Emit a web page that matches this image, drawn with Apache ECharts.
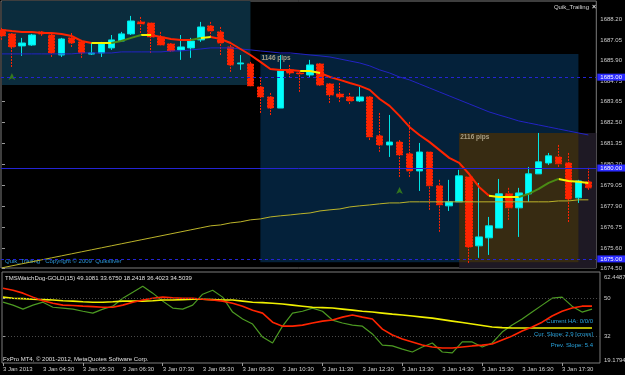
<!DOCTYPE html>
<html>
<head>
<meta charset="utf-8">
<script src="https://cdn.jsdelivr.net/npm/echarts@6/dist/echarts.min.js"></script>
<style>
  html, body { margin: 0; padding: 0; background: #000; }
  #chart { width: 625px; height: 375px; }
</style>
</head>
<body>
<div id="chart"></div>
<script>
// bar times, M15, 3 Jan 2013
var times = ['03:30','03:45','04:00','04:15','04:30','04:45','05:00','05:15','05:30','05:45',
  '06:00','06:15','06:30','06:45','07:00','07:15','07:30','07:45','08:00','08:15',
  '08:30','08:45','09:00','09:15','09:30','09:45','10:00','10:15','10:30','10:45',
  '11:00','11:15','11:30','11:45','12:00','12:15','12:30','12:45','13:00','13:15',
  '13:30','13:45','14:00','14:15','14:30','14:45','15:00','15:15','15:30','15:45',
  '16:00','16:15','16:30','16:45','17:00','17:15','17:30','17:45','18:00','18:15'];

var open = [1687.60, 1687.38, 1686.72, 1686.77, 1687.49, 1687.32, 1686.22, 1687.16, 1686.94, 1686.27,
  1686.33, 1686.61, 1686.99, 1687.38, 1688.04, 1687.98, 1687.21, 1686.83, 1686.50, 1686.61,
  1687.05, 1687.82, 1687.49, 1686.66, 1685.73, 1685.73, 1684.46, 1683.91, 1683.30, 1685.40,
  1685.23, 1685.12, 1685.73, 1684.63, 1684.07, 1683.91, 1683.69, 1683.91, 1681.77, 1681.27,
  1681.43, 1680.78, 1679.84, 1680.88, 1679.02, 1677.92, 1678.14, 1679.51, 1675.72, 1676.16,
  1676.70, 1678.58, 1677.81, 1678.58, 1679.68, 1680.28, 1680.61, 1680.28, 1678.36, 1679.24];
var high = [1687.71, 1687.43, 1687.16, 1687.38, 1687.54, 1687.38, 1687.16, 1687.43, 1687.05, 1686.88,
  1686.94, 1687.32, 1687.49, 1688.37, 1688.31, 1687.98, 1687.49, 1686.88, 1687.32, 1687.16,
  1688.04, 1688.04, 1687.76, 1686.94, 1686.22, 1685.84, 1685.01, 1684.13, 1686.22, 1685.67,
  1685.29, 1685.95, 1685.78, 1684.68, 1684.68, 1684.13, 1684.46, 1683.96, 1683.03, 1682.92,
  1681.54, 1682.54, 1681.38, 1680.88, 1679.35, 1679.35, 1679.90, 1679.51, 1679.18, 1677.31,
  1679.40, 1678.91, 1678.91, 1680.06, 1681.93, 1680.83, 1681.27, 1680.83, 1679.35, 1680.01];
var low = [1687.05, 1685.56, 1686.17, 1686.72, 1687.27, 1686.11, 1686.11, 1686.66, 1686.06, 1686.22,
  1686.11, 1686.50, 1686.94, 1687.32, 1687.43, 1686.33, 1686.77, 1686.39, 1685.95, 1686.06,
  1686.94, 1687.21, 1686.22, 1685.29, 1685.40, 1684.52, 1683.03, 1682.92, 1683.30, 1684.96,
  1684.19, 1685.01, 1684.52, 1683.58, 1683.63, 1683.52, 1683.63, 1681.54, 1680.89, 1680.61,
  1679.51, 1679.51, 1678.74, 1677.70, 1676.49, 1677.64, 1678.14, 1674.78, 1675.06, 1675.22,
  1676.70, 1677.15, 1676.21, 1678.14, 1679.68, 1680.17, 1680.06, 1677.03, 1678.08, 1678.80];
var close = [1687.27, 1686.66, 1686.88, 1687.32, 1687.38, 1686.33, 1687.10, 1686.88, 1686.33, 1686.33,
  1686.83, 1687.05, 1687.38, 1688.09, 1687.93, 1687.21, 1686.77, 1686.44, 1686.66, 1686.99,
  1687.76, 1687.54, 1686.88, 1685.67, 1685.78, 1684.52, 1683.91, 1683.30, 1685.34, 1685.23,
  1685.18, 1685.67, 1684.57, 1684.02, 1683.91, 1683.69, 1683.91, 1681.71, 1681.27, 1681.43,
  1680.72, 1679.84, 1680.88, 1679.02, 1677.97, 1678.14, 1679.57, 1675.66, 1676.21, 1676.82,
  1678.58, 1677.81, 1678.63, 1679.68, 1680.34, 1680.67, 1680.23, 1678.30, 1679.29, 1678.91];

// Quik_Trailing line and its slope colour (r falling, y flat, g rising)
var trail = [1687.60, 1687.54, 1687.49, 1687.49, 1687.43, 1687.43, 1687.38, 1687.27, 1686.99, 1686.88,
  1686.88, 1686.88, 1686.99, 1687.16, 1687.32, 1687.32, 1687.21, 1687.10, 1687.05, 1687.05,
  1687.16, 1687.21, 1687.10, 1686.88, 1686.55, 1686.22, 1685.84, 1685.45, 1685.40, 1685.40,
  1685.34, 1685.34, 1685.23, 1685.01, 1684.85, 1684.68, 1684.52, 1684.30, 1683.80, 1683.42,
  1682.87, 1682.26, 1681.82, 1681.44, 1681.00, 1680.56, 1680.28, 1679.67, 1678.96, 1678.47,
  1678.41, 1678.41, 1678.41, 1678.58, 1678.85, 1679.18, 1679.40, 1679.29, 1679.24, 1679.18];
var trailState = ['r','r','r','r','r','r','r','r','r','r',
  'y','y','g','g','g','y','r','r','r','r',
  'g','y','r','r','r','r','r','r','r','r',
  'r','y','y','r','r','r','r','r','r','r',
  'r','r','r','r','r','r','r','r','r','r',
  'y','y','y','g','g','g','g','y','y','y'];

var blueMA = [1686.28, 1686.28, 1686.28, 1686.28, 1686.28, 1686.28, 1686.28, 1686.28, 1686.33, 1686.33,
  1686.33, 1686.33, 1686.39, 1686.39, 1686.39, 1686.39, 1686.39, 1686.44, 1686.44, 1686.50,
  1686.55, 1686.61, 1686.61, 1686.61, 1686.55, 1686.50, 1686.44, 1686.39, 1686.33, 1686.33,
  1686.28, 1686.22, 1686.17, 1686.11, 1686.00, 1685.89, 1685.78, 1685.62, 1685.40, 1685.23,
  1685.01, 1684.85, 1684.63, 1684.41, 1684.19, 1683.97, 1683.75, 1683.53, 1683.31, 1683.09,
  1682.92, 1682.76, 1682.59, 1682.48, 1682.37, 1682.26, 1682.15, 1682.04, 1681.93, 1681.82];
var longMA = [1674.51, 1674.62, 1674.73, 1674.84, 1674.95, 1675.06, 1675.17, 1675.28, 1675.39, 1675.50,
  1675.61, 1675.72, 1675.83, 1675.94, 1676.05, 1676.16, 1676.27, 1676.38, 1676.49, 1676.60,
  1676.71, 1676.82, 1676.87, 1676.98, 1677.04, 1677.15, 1677.20, 1677.31, 1677.37, 1677.42,
  1677.48, 1677.53, 1677.64, 1677.70, 1677.75, 1677.86, 1677.92, 1677.97, 1678.03, 1678.08,
  1678.08, 1678.14, 1678.14, 1678.14, 1678.14, 1678.14, 1678.14, 1678.14, 1678.14, 1678.14,
  1678.14, 1678.14, 1678.14, 1678.14, 1678.14, 1678.14, 1678.19, 1678.19, 1678.25, 1678.25];

// horizontal price levels and arrows
var levels = [1685.00, 1680.00, 1675.00];
var levelDashed = [true, false, true];
var arrowBars = [1, 40];
var arrowPrices = [1685.23, 1678.96];

// TMSWatchDog indicator
var tmsGreen = [48.1, 46.7, 44.8, 46.7, 48.1, 45.7, 45.3, 44.8, 43.8, 42.9,
  44.8, 46.2, 50.0, 52.8, 55.7, 52.4, 48.6, 45.3, 44.8, 46.7,
  51.9, 53.8, 50.5, 43.4, 40.1, 37.7, 31.5, 28.7, 36.7, 42.9,
  43.8, 45.3, 43.8, 39.6, 38.2, 37.2, 36.7, 33.0, 27.7, 27.3,
  25.8, 24.4, 26.8, 28.7, 24.4, 24.0, 29.2, 29.2, 26.8, 28.7,
  33.9, 37.2, 40.1, 43.4, 46.7, 50.0, 50.5, 46.2, 43.4, 44.8];
var tmsRed = [54.7, 53.8, 52.4, 50.5, 48.8, 47.6, 46.7, 46.5, 46.2, 46.0,
  45.7, 45.7, 46.7, 48.1, 49.1, 50.0, 50.5, 50.2, 50.0, 50.0,
  49.5, 49.1, 48.6, 47.6, 46.2, 44.3, 42.9, 38.6, 36.7, 36.7,
  37.2, 38.2, 39.1, 39.6, 41.0, 42.0, 41.0, 40.1, 35.3, 32.5,
  30.6, 29.2, 27.7, 26.8, 26.3, 26.3, 26.8, 27.3, 27.7, 28.2,
  30.1, 32.0, 34.4, 36.3, 38.6, 41.5, 43.8, 45.3, 46.2, 46.2];
var tmsYellow = [50.5, 50.0, 49.8, 49.5, 49.3, 49.1, 48.8, 48.6, 48.3, 48.1,
  48.1, 48.3, 48.6, 48.6, 48.6, 48.8, 49.1, 49.1, 49.3, 49.5,
  49.5, 49.3, 49.1, 49.1, 48.6, 48.1, 47.9, 47.6, 47.2, 46.7,
  46.2, 45.7, 45.5, 45.3, 44.8, 44.3, 43.8, 43.4, 42.9, 42.4,
  42.0, 41.5, 41.0, 40.5, 39.8, 39.1, 38.4, 37.7, 37.0, 36.3,
  36.0, 35.8, 35.8, 35.8, 35.8, 35.8, 35.8, 35.8, 35.8, 35.8];

// axis ticks
var priceTicks = [1688.20, 1687.05, 1685.90, 1684.75, 1683.65, 1682.50, 1681.35,
  1680.20, 1679.05, 1677.90, 1676.75, 1675.60, 1674.50];
var tmsTicks = [50, 32];
var timeLabelBars = [0, 4, 8, 12, 16, 20, 24, 28, 32, 36, 40, 44, 48, 52, 56];
var timeTickBars = [0, 8, 16, 24, 32, 40, 48, 56];

var FONT = '6px "Liberation Sans", Arial, sans-serif';
var LBL = '#d0d0d0';

function pairs(arr) {
  return arr.map(function (v, i) { return [i, v]; });
}
function trailPart(code) {
  return trail.map(function (v, i) {
    var on = trailState[i] === code || (i + 1 < trail.length && trailState[i + 1] === code);
    return [i, on ? v : null];
  });
}

var candles = times.map(function (t, i) {
  var item = { value: [i, open[i], close[i], low[i], high[i]] };
  if (close[i] < open[i]) item.itemStyle = { borderType: [2, 1] };
  return item;
});

var chart = echarts.init(document.getElementById('chart'));

var option = {
  animation: false,
  backgroundColor: '#000000',
  grid: [
    { left: 1, width: 599, top: 1, height: 267, show: true, borderColor: '#7c7c7c', borderWidth: 1 },
    { left: 1, width: 599, top: 272, height: 91, show: true, borderColor: '#7c7c7c', borderWidth: 1 }
  ],
  xAxis: [
    { type: 'value', gridIndex: 0, min: -0.1, max: 59.8, show: false },
    {
      type: 'value', gridIndex: 1, min: -0.1, max: 59.8,
      axisLine: { show: false },
      splitLine: { show: false },
      axisTick: { show: true, length: 3, customValues: timeTickBars, lineStyle: { color: '#9a9a9a' } },
      axisLabel: {
        customValues: timeLabelBars, align: 'left', margin: 3,
        fontSize: 6, fontFamily: '"Liberation Sans", Arial', color: LBL,
        formatter: function (v) { return v === 0 ? '3 Jan 2013' : '3 Jan ' + times[v]; }
      }
    }
  ],
  yAxis: [
    {
      type: 'value', gridIndex: 0, position: 'right', min: 1674.50, max: 1689.19, scale: true,
      axisLine: { show: false },
      splitLine: { show: false },
      axisTick: { show: true, length: 3, customValues: priceTicks, lineStyle: { color: '#9a9a9a' } },
      axisLabel: {
        customValues: priceTicks, margin: 4, fontSize: 6,
        fontFamily: '"Liberation Sans", Arial', color: LBL,
        formatter: function (v) { return v.toFixed(2); }
      }
    },
    {
      type: 'value', gridIndex: 1, position: 'right', min: 19.1794, max: 62.4487, scale: true,
      axisLine: { show: false },
      splitLine: { show: false },
      axisTick: { show: true, length: 3, customValues: tmsTicks, lineStyle: { color: '#9a9a9a' } },
      axisLabel: {
        customValues: tmsTicks, margin: 4, fontSize: 6,
        fontFamily: '"Liberation Sans", Arial', color: LBL
      }
    }
  ],
  series: [
    {
      type: 'candlestick', xAxisIndex: 0, yAxisIndex: 0,
      barWidth: 7,
      data: candles,
      itemStyle: {
        color: '#00ffff', color0: '#ff2400',
        borderColor: '#00e4e4', borderColor0: '#ff2400', borderWidth: 1
      },
      markArea: {
        silent: true,
        label: {
          show: true, position: 'insideTopLeft', distance: 1,
          color: '#aa9f84', fontSize: 6.5, fontWeight: 'bold', fontFamily: '"Liberation Sans", Arial'
        },
        data: [
          [{ xAxis: 0, yAxis: 1690, itemStyle: { color: '#0b2c3d' } }, { xAxis: 25, yAxis: 1684.57 }],
          [{ xAxis: 26, yAxis: 1686.28, name: '1146 pips', itemStyle: { color: '#04213a' } }, { xAxis: 58, yAxis: 1674.82 }],
          [{ xAxis: 46, yAxis: 1681.93, itemStyle: { color: '#1e1924' } }, { yAxis: 1660.77 }],
          [{ xAxis: 46, yAxis: 1681.93, name: '2116 pips', itemStyle: { color: '#372b12' } }, { xAxis: 58, yAxis: 1674.82 }]
        ]
      }
    },
    {
      type: 'line', xAxisIndex: 0, yAxisIndex: 0, data: pairs(longMA),
      symbol: 'none', lineStyle: { color: '#bcb42a', width: 1 }
    },
    {
      type: 'line', xAxisIndex: 0, yAxisIndex: 0, data: pairs(blueMA),
      symbol: 'none', lineStyle: { color: '#2323c4', width: 1 },
      markLine: {
        silent: true, symbol: ['none', 'none'],
        label: {
          show: true, position: 'end', distance: 1,
          backgroundColor: '#2a2aff', color: '#ffffff', padding: [1, 4, 0, 3],
          fontSize: 6, fontFamily: '"Liberation Sans", Arial',
          formatter: function (p) { return p.value.toFixed(2); }
        },
        data: levels.map(function (v, i) {
          return { yAxis: v, lineStyle: { color: '#2424d4', width: 1, type: levelDashed[i] ? [3, 3] : 'solid' } };
        })
      }
    },
    {
      type: 'line', xAxisIndex: 0, yAxisIndex: 0, data: trailPart('r'), connectNulls: false,
      symbol: 'none', lineStyle: { color: '#ff2400', width: 2 }
    },
    {
      type: 'line', xAxisIndex: 0, yAxisIndex: 0, data: trailPart('y'), connectNulls: false,
      symbol: 'none', lineStyle: { color: '#f4f400', width: 2 }
    },
    {
      type: 'line', xAxisIndex: 0, yAxisIndex: 0, data: trailPart('g'), connectNulls: false,
      symbol: 'none', lineStyle: { color: '#4a8a14', width: 2 }
    },
    {
      type: 'scatter', xAxisIndex: 0, yAxisIndex: 0,
      data: arrowBars.map(function (b, i) { return [b, arrowPrices[i]]; }),
      symbol: 'arrow', symbolSize: [5, 7], itemStyle: { color: '#3f8c18' }
    },
    {
      type: 'line', xAxisIndex: 1, yAxisIndex: 1, data: pairs(tmsGreen),
      symbol: 'none', lineStyle: { color: '#4c9a22', width: 1.2 },
      markLine: {
        silent: true, symbol: ['none', 'none'], label: { show: false },
        lineStyle: { color: '#4a4a4a', width: 1, type: [1, 2] },
        data: [{ yAxis: 50 }, { yAxis: 32 }]
      }
    },
    {
      type: 'line', xAxisIndex: 1, yAxisIndex: 1, data: pairs(tmsYellow),
      symbol: 'none', lineStyle: { color: '#f0f000', width: 1.6 }
    },
    {
      type: 'line', xAxisIndex: 1, yAxisIndex: 1, data: pairs(tmsRed),
      symbol: 'none', lineStyle: { color: '#ff2400', width: 1.6 }
    }
  ],
  graphic: [
    { type: 'text', x: 5, y: 5.5, style: { text: 'GOLD,M15  1646.68 1646.73 1645.62 1645.82', font: FONT, fill: '#e8e8e8', backgroundColor: '#000000', verticalAlign: 'middle' } },
    { type: 'text', x: 5, y: 12.5, style: { text: '7 minutes 58 seconds left to bar end', font: FONT, fill: '#dcdcb8', verticalAlign: 'middle' } },
    { type: 'text', x: 589, y: 7, style: { text: 'Quik_Trailing', font: FONT, fill: '#d8d8d8', align: 'right', verticalAlign: 'middle' } },
    { type: 'text', x: 592, y: 7, style: { text: '×', font: 'bold 7px "Liberation Sans", Arial', fill: '#e0e0e0', verticalAlign: 'middle' } },
    { type: 'text', x: 5, y: 261, style: { text: 'Quik_Trailing   Copyright © 2009  Quiksilver', font: FONT, fill: '#2a96d8', verticalAlign: 'middle' } },
    { type: 'text', x: 5, y: 278.5, style: { text: 'TMSWatchDog-GOLD(15) 49.1081 33.6750 18.2418 36.4023 34.5039', font: FONT, fill: '#e0e0e0', verticalAlign: 'middle' } },
    { type: 'text', x: 3, y: 359.5, style: { text: 'FxPro MT4, © 2001-2012, MetaQuotes Software Corp.', font: FONT, fill: '#e0e0e0', verticalAlign: 'middle' } },
    { type: 'text', x: 593, y: 321.5, style: { text: 'Current HA: 0/0/0', font: FONT, fill: '#28a4de', align: 'right', verticalAlign: 'middle' } },
    { type: 'text', x: 593, y: 334.5, style: { text: 'Cur. Slope: 2.9 [cross]', font: FONT, fill: '#28a4de', align: 'right', verticalAlign: 'middle' } },
    { type: 'text', x: 593, y: 345.5, style: { text: 'Prev. Slope: 5.4', font: FONT, fill: '#28a4de', align: 'right', verticalAlign: 'middle' } },
    { type: 'text', x: 604, y: 277, style: { text: '62.4487', font: FONT, fill: LBL, verticalAlign: 'middle' } },
    { type: 'text', x: 604, y: 360, style: { text: '19.1794', font: FONT, fill: LBL, verticalAlign: 'middle' } }
  ]
};

chart.setOption(option);
</script>
</body>
</html>
